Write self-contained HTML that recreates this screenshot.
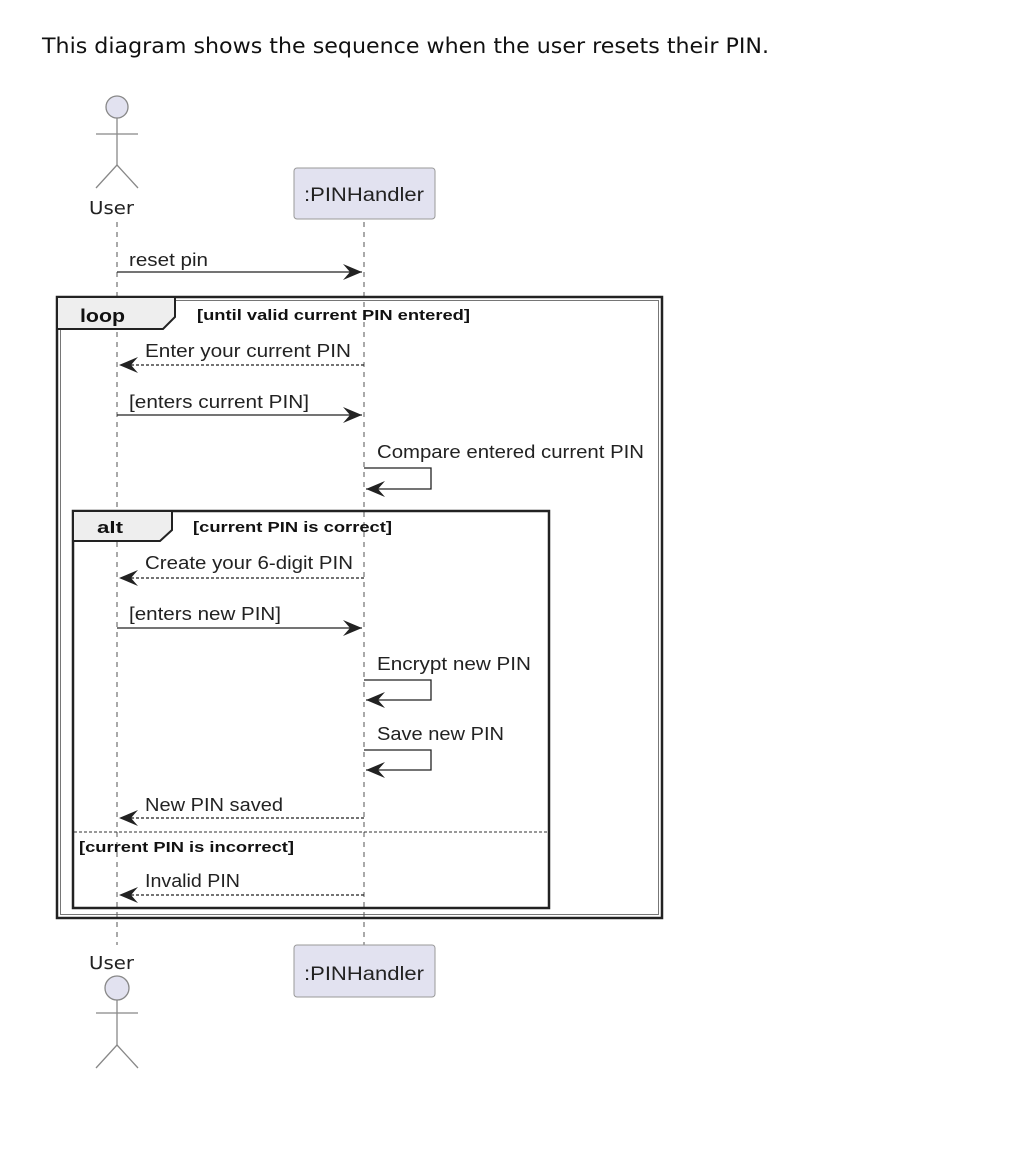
<!DOCTYPE html>
<html><head><meta charset="utf-8"><style>
html,body{margin:0;padding:0;background:#fff;}
svg{display:block;}
.t{font-family:"Liberation Sans",sans-serif;font-size:18px;fill:#222;}
.b{font-family:"Liberation Sans",sans-serif;font-size:15px;font-weight:bold;fill:#111;}
</style></head><body>
<svg width="1016" height="1174" viewBox="0 0 1016 1174" xmlns="http://www.w3.org/2000/svg">
<text x="42" y="53" font-family="DejaVu Sans, sans-serif" font-size="21" fill="#111" textLength="727" lengthAdjust="spacingAndGlyphs">This diagram shows the sequence when the user resets their PIN.</text>
<defs><marker id="a" markerWidth="20" markerHeight="16" refX="19" refY="8" orient="auto" markerUnits="userSpaceOnUse"><path d="M0,0 L19,8 L0,16 L7,8 Z" fill="#222"/></marker></defs>
<g stroke="#555" stroke-width="1" stroke-dasharray="5,5">
<line x1="117" y1="222" x2="117" y2="945"/>
<line x1="364" y1="222" x2="364" y2="945"/>
</g>
<g stroke="#888" stroke-width="1.3" fill="none">
<circle cx="117" cy="107" r="11" fill="#e2e2f0"/>
<line x1="117" y1="118" x2="117" y2="165"/><line x1="96" y1="134" x2="138" y2="134"/>
<polyline points="96,188 117,165 138,188"/>
</g>
<text class="t" x="89" y="214" textLength="45" lengthAdjust="spacingAndGlyphs" style="font-family:'DejaVu Sans',sans-serif;font-size:18px">User</text>
<rect x="294" y="168" width="141" height="51" rx="3" fill="#e2e2f0" stroke="#999"/>
<text class="t" x="304" y="201" textLength="120" lengthAdjust="spacingAndGlyphs" style="font-size:19px">:PINHandler</text>
<text class="t" x="89" y="969" textLength="45" lengthAdjust="spacingAndGlyphs" style="font-family:'DejaVu Sans',sans-serif;font-size:18px">User</text>
<g stroke="#888" stroke-width="1.3" fill="none">
<circle cx="117" cy="988" r="12" fill="#e2e2f0"/>
<line x1="117" y1="1000" x2="117" y2="1045"/><line x1="96" y1="1013" x2="138" y2="1013"/>
<polyline points="96,1068 117,1045 138,1068"/>
</g>
<rect x="294" y="945" width="141" height="52" rx="3" fill="#e2e2f0" stroke="#999"/>
<text class="t" x="304" y="980" textLength="120" lengthAdjust="spacingAndGlyphs" style="font-size:19px">:PINHandler</text>
<text class="t" x="129" y="266" textLength="79" lengthAdjust="spacingAndGlyphs">reset pin</text>
<line x1="117" y1="272" x2="362" y2="272" stroke="#222" stroke-width="1.3" marker-end="url(#a)"/>
<rect x="57" y="297" width="605" height="621" fill="none" stroke="#222" stroke-width="2.5"/>
<rect x="60.5" y="300.5" width="598" height="614" fill="none" stroke="#555" stroke-width="0.8"/>
<path d="M57,297 L175,297 L175,317 L163,329 L57,329 Z" fill="#eee" stroke="#222" stroke-width="2"/>
<text class="b" x="80" y="322" textLength="45" lengthAdjust="spacingAndGlyphs" style="font-size:18px">loop</text>
<text class="b" x="197" y="320" textLength="273" lengthAdjust="spacingAndGlyphs">[until valid current PIN entered]</text>
<text class="t" x="145" y="357" textLength="206" lengthAdjust="spacingAndGlyphs">Enter your current PIN</text>
<line x1="364" y1="365" x2="119" y2="365" stroke="#222" stroke-width="1.2" stroke-dasharray="3,2" marker-end="url(#a)"/>
<text class="t" x="129" y="408" textLength="180" lengthAdjust="spacingAndGlyphs">[enters current PIN]</text>
<line x1="117" y1="415" x2="362" y2="415" stroke="#222" stroke-width="1.3" marker-end="url(#a)"/>
<text class="t" x="377" y="458" textLength="267" lengthAdjust="spacingAndGlyphs">Compare entered current PIN</text>
<polyline points="364,468 431,468 431,489 366,489" fill="none" stroke="#222" stroke-width="1.3" marker-end="url(#a)"/>
<rect x="73" y="511" width="476" height="397" fill="none" stroke="#222" stroke-width="2.5"/>
<path d="M73,511 L172,511 L172,530 L160,541 L73,541 Z" fill="#eee" stroke="#222" stroke-width="2"/>
<text class="b" x="97" y="533" textLength="26" lengthAdjust="spacingAndGlyphs" style="font-size:17px">alt</text>
<text class="b" x="193" y="532" textLength="199" lengthAdjust="spacingAndGlyphs">[current PIN is correct]</text>
<text class="t" x="145" y="569" textLength="208" lengthAdjust="spacingAndGlyphs">Create your 6-digit PIN</text>
<line x1="364" y1="578" x2="119" y2="578" stroke="#222" stroke-width="1.2" stroke-dasharray="3,2" marker-end="url(#a)"/>
<text class="t" x="129" y="620" textLength="152" lengthAdjust="spacingAndGlyphs">[enters new PIN]</text>
<line x1="117" y1="628" x2="362" y2="628" stroke="#222" stroke-width="1.3" marker-end="url(#a)"/>
<text class="t" x="377" y="670" textLength="154" lengthAdjust="spacingAndGlyphs">Encrypt new PIN</text>
<polyline points="364,680 431,680 431,700 366,700" fill="none" stroke="#222" stroke-width="1.3" marker-end="url(#a)"/>
<text class="t" x="377" y="740" textLength="127" lengthAdjust="spacingAndGlyphs">Save new PIN</text>
<polyline points="364,750 431,750 431,770 366,770" fill="none" stroke="#222" stroke-width="1.3" marker-end="url(#a)"/>
<text class="t" x="145" y="811" textLength="138" lengthAdjust="spacingAndGlyphs">New PIN saved</text>
<line x1="364" y1="818" x2="119" y2="818" stroke="#222" stroke-width="1.2" stroke-dasharray="3,2" marker-end="url(#a)"/>
<line x1="74" y1="832" x2="548" y2="832" stroke="#333" stroke-width="1" stroke-dasharray="3,2"/>
<text class="b" x="79" y="852" textLength="215" lengthAdjust="spacingAndGlyphs">[current PIN is incorrect]</text>
<text class="t" x="145" y="887" textLength="95" lengthAdjust="spacingAndGlyphs">Invalid PIN</text>
<line x1="364" y1="895" x2="119" y2="895" stroke="#222" stroke-width="1.2" stroke-dasharray="3,2" marker-end="url(#a)"/>
</svg>
</body></html>
